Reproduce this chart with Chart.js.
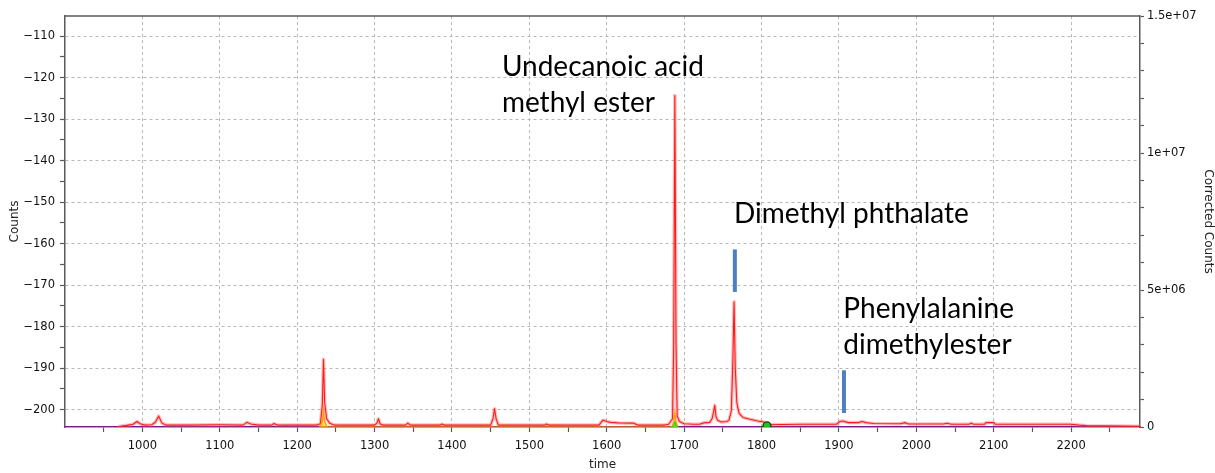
<!DOCTYPE html>
<html><head><meta charset="utf-8">
<script src="https://cdn.jsdelivr.net/npm/chart.js@4.4.1/dist/chart.umd.min.js"></script>
<style>html,body{margin:0;padding:0;background:#fff}canvas{display:block}</style>
</head><body>
<canvas id="c" width="1215" height="473"></canvas>
<script>
// ---- data (time in s; corrected counts in millions) ----
const redTime = [
  970, 980, 988, 993, 997, 1003, 1012, 1017, 1021, 1025, 1030, 1060, 1100, 1130, 1135, 1140, 1150,
  1167, 1170, 1174, 1225, 1230, 1232.5, 1234, 1235.5, 1238, 1242, 1248, 1300, 1303, 1305, 1307, 1310,
  1340, 1343, 1346, 1385, 1387, 1390, 1450, 1453, 1455, 1457, 1460, 1520, 1522, 1525,
  1590, 1595, 1600, 1605, 1615, 1635, 1640, 1675, 1680, 1685, 1686.5, 1688, 1689.5, 1691, 1694, 1700,
  1712, 1720, 1725, 1733, 1736, 1738, 1739.5, 1741, 1743, 1748, 1755, 1758, 1761, 1763, 1764.5, 1766,
  1768, 1771, 1776, 1785, 1795, 1803, 1806, 1850, 1897, 1901, 1905, 1912, 1925, 1930, 1935, 1945,
  1980, 1985, 1990, 2035, 2040, 2045, 2068, 2071, 2074, 2088, 2090, 2100, 2102, 2200, 2210, 2220, 2289
];
const redCounts = [
  0.02, 0.06, 0.1, 0.2, 0.12, 0.07, 0.08, 0.18, 0.4, 0.15, 0.07, 0.07, 0.08, 0.07, 0.17, 0.11, 0.07,
  0.07, 0.13, 0.07, 0.07, 0.12, 0.8, 2.47, 0.9, 0.3, 0.14, 0.07, 0.07, 0.14, 0.3, 0.12, 0.07,
  0.07, 0.14, 0.07, 0.07, 0.11, 0.07, 0.07, 0.3, 0.67, 0.3, 0.07, 0.07, 0.11, 0.07,
  0.07, 0.25, 0.2, 0.17, 0.15, 0.14, 0.07, 0.07, 0.1, 0.3, 3.0, 12.1, 3.0, 0.4, 0.2, 0.12,
  0.1, 0.1, 0.15, 0.17, 0.3, 0.55, 0.79, 0.4, 0.25, 0.18, 0.2, 0.25, 0.6, 2.5, 4.57, 2.2,
  0.9, 0.5, 0.35, 0.28, 0.22, 0.18, 0.08, 0.1, 0.1, 0.2, 0.22, 0.16, 0.16, 0.2, 0.16, 0.13,
  0.12, 0.16, 0.11, 0.11, 0.14, 0.1, 0.1, 0.14, 0.1, 0.1, 0.16, 0.16, 0.1, 0.1, 0.07, 0.05, 0.03
];
const orangeTime   = [1229, 1232.5, 1234, 1235.5, 1239, 1684, 1686.5, 1688, 1689.5, 1692];
const orangeCounts = [0, 0.2, 0.61, 0.2, 0, 0, 0.2, 0.55, 0.2, 0];
const greenTime   = [1684, 1686.5, 1688, 1689.5, 1692];
const greenCounts = [0, 0.05, 0.18, 0.05, 0];
const peakPointTime = [1807];
const peakPointCounts = [0.04];
const rawTime   = [900, 2289];
const rawCounts = [-204.15, -204.15];
const markerTime = [1765.5, 1906.5];
const markerLow  = [4.93, 0.51];
const markerHigh = [6.48, 2.07];
const noteLines = [['Undecanoic acid', 'methyl ester'], ['Dimethyl phthalate'], ['Phenylalanine', 'dimethylester']];

const xTicks = [950,1000,1050,1100,1150,1200,1250,1300,1350,1400,1450,1500,1550,1600,1650,1700,1750,1800,1850,1900,1950,2000,2050,2100,2150,2200,2250];
const xLabelled = [1000,1100,1200,1300,1400,1500,1600,1700,1800,1900,2000,2100,2200];
const leftTicks = [-200,-195,-190,-185,-180,-175,-170,-165,-160,-155,-150,-145,-140,-135,-130,-125,-120,-115,-110];
const leftMajor  = [-200,-190,-180,-170,-160,-150,-140,-130,-120,-110];
const leftLabels = ['\u2212200','\u2212190','\u2212180','\u2212170','\u2212160','\u2212150','\u2212140','\u2212130','\u2212120','\u2212110'];
const rightTicks = [0,1,2,3,4,5,6,7,8,9,10,11,12,13,14,15];
const rightMajor  = [0, 5, 10, 15];
const rightLabels = ['0', '5e+06', '1e+07', '1.5e+07'];

const xy = (xs, ys) => xs.map((t, i) => ({x: t, y: ys[i]}));

const tickFont = {family: 'DejaVu Sans', size: 11.5};
const titleFont = {family: 'DejaVu Sans', size: 12};
const axisCol = '#5a5a5a';
const gridCol = '#b8b8b8';

const frame = {
  id: 'frame',
  afterDraw(chart) {
    const {ctx, chartArea: a} = chart;
    ctx.save();
    ctx.strokeStyle = axisCol; ctx.lineWidth = 1.5;
    ctx.beginPath(); ctx.moveTo(a.left, a.top); ctx.lineTo(a.right, a.top); ctx.stroke();
    ctx.restore();
  }
};
const notes = {
  id: 'notes',
  afterDatasetsDraw(chart, args, opts) {
    const {ctx, scales: {x, y2}} = chart;
    ctx.save();
    ctx.fillStyle = '#000';
    ctx.font = opts.font;
    ctx.textBaseline = 'alphabetic';
    ctx.textAlign = 'left';
    opts.anchors.forEach((a, k) => {
      const px = x.getPixelForValue(a.t);
      const py = y2.getPixelForValue(a.v);
      noteLines[k].forEach((line, i) => ctx.fillText(line, px, py + i * opts.lineGap));
    });
    ctx.restore();
  }
};

new Chart(document.getElementById('c'), {
  type: 'line',
  data: {
    datasets: [
      ...markerTime.map((t, i) => ({
        data: [{x: t, y: markerLow[i]}, {x: t, y: markerHigh[i]}], yAxisID: 'y2',
        borderColor: '#4f7fc0', borderWidth: 4, pointRadius: 0, borderCapStyle: 'butt', order: 1
      })),
      {data: xy(peakPointTime, peakPointCounts), yAxisID: 'y2', showLine: false,
       pointRadius: 4, pointBackgroundColor: '#22c022', pointBorderColor: '#103010', pointBorderWidth: 1.2, order: 2},
      {data: xy(greenTime, greenCounts), yAxisID: 'y2', borderColor: '#33cc33', borderWidth: 1.2,
       backgroundColor: 'rgba(120,220,60,0.7)', fill: 'origin', pointRadius: 0, order: 3},
      {data: xy(orangeTime, orangeCounts), yAxisID: 'y2', borderColor: '#ff9a00', borderWidth: 1.2,
       backgroundColor: 'rgba(255,200,0,0.7)', fill: 'origin', pointRadius: 0, order: 4},
      {data: xy(redTime, redCounts), yAxisID: 'y2', borderColor: '#ff1a1a', borderWidth: 1.1,
       borderJoinStyle: 'round', pointRadius: 0, order: 5},
      {data: xy(redTime, redCounts), yAxisID: 'y2', borderColor: 'rgba(255,90,90,0.4)', borderWidth: 3.5,
       borderJoinStyle: 'round', borderCapStyle: 'round', pointRadius: 0, order: 6},
      {data: xy(rawTime, rawCounts), yAxisID: 'y', borderColor: '#7a1a80', borderWidth: 1.5,
       pointRadius: 0, order: 7}
    ]
  },
  options: {
    responsive: false,
    animation: false,
    devicePixelRatio: 1,
    layout: {padding: {top: 16, left: 0, right: 0, bottom: 0}},
    plugins: {
      legend: {display: false},
      tooltip: {enabled: false},
      notes: {
        font: '28px Lato',
        lineGap: 36,
        anchors: [{t: 1464.5, v: 12.81}, {t: 1764.5, v: 7.43}, {t: 1905.6, v: 3.97}]
      }
    },
    scales: {
      x: {
        type: 'linear', min: 900, max: 2289,
        afterBuildTicks: s => { s.ticks = xTicks.map(v => ({value: v})); },
        afterFit: s => { s.height = 46; },
        ticks: {autoSkip: false, maxRotation: 0, padding: 7, color: '#111', font: tickFont,
                callback: v => xLabelled.includes(v) ? String(v) : ''},
        grid: {color: c => (c.tick && xLabelled.includes(c.tick.value)) ? gridCol : 'rgba(0,0,0,0)',
               lineWidth: 1, tickLength: 5, tickColor: axisCol, tickWidth: 1.2},
        border: {color: axisCol, width: 1.5, dash: [3, 3]},
        title: {display: true, text: 'time', color: '#222', font: titleFont, padding: {top: 0, bottom: 1}}
      },
      y: {
        type: 'linear', position: 'left', min: -204.19, max: -105.18,
        afterBuildTicks: s => { s.ticks = leftTicks.map(v => ({value: v})); },
        afterFit: s => { s.width = 65; },
        ticks: {autoSkip: false, padding: 5, color: '#111', font: tickFont,
                callback: v => { const k = leftMajor.indexOf(v); return k >= 0 ? leftLabels[k] : ''; }},
        grid: {color: c => (c.tick && leftMajor.includes(c.tick.value)) ? gridCol : 'rgba(0,0,0,0)',
               lineWidth: 1, tickLength: 5, tickColor: axisCol, tickWidth: 1.2},
        border: {color: axisCol, width: 1.5, dash: [3, 3]},
        title: {display: true, text: 'Counts', color: '#222', font: titleFont, padding: {top: 8, bottom: 0}}
      },
      y2: {
        type: 'linear', position: 'right', min: 0, max: 15,
        afterBuildTicks: s => { s.ticks = rightTicks.map(v => ({value: v})); },
        afterFit: s => { s.width = 75; },
        ticks: {autoSkip: false, padding: 3, color: '#111', font: tickFont,
                callback: v => { const k = rightMajor.indexOf(v); return k >= 0 ? rightLabels[k] : ''; }},
        grid: {drawOnChartArea: false, tickLength: 4, tickColor: axisCol, tickWidth: 1.2},
        border: {color: axisCol, width: 1.5},
        title: {display: true, text: 'Corrected Counts', color: '#222', font: titleFont, padding: {top: 0, bottom: 0}}
      }
    }
  },
  plugins: [frame, notes]
});
</script>
</body></html>
